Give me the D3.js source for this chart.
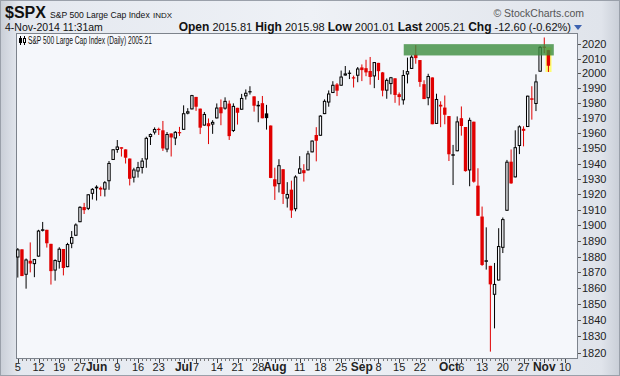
<!DOCTYPE html>
<html>
<head>
<meta charset="utf-8">
<script src="https://cdn.jsdelivr.net/npm/d3@7"></script>
<style>
body { margin: 0; background: #dfe3ea; }
svg { display: block; font-family: "Liberation Sans", Arial, sans-serif; }
</style>
</head>
<body>
<div id="chart"></div>
<script>
// $SPX daily, 5-May-2014 .. 4-Nov-2014 (one entry per trading day)
var opens = [1879.45,1884.66,1868.53,1877.39,1875.27,1880.03,1896.75,1897.13,1888.16,1871.19,
  1876.66,1884.88,1873.34,1888.19,1893.32,1902.01,1911.77,1910.60,1920.33,1923.87,
  1923.07,1923.06,1928.52,1942.41,1948.97,1950.34,1949.37,1943.35,1930.80,1934.84,
  1937.15,1942.73,1957.50,1960.45,1962.92,1961.97,1949.27,1959.89,1956.56,1960.79,
  1962.29,1973.06,1975.88,1984.22,1976.39,1965.10,1966.67,1965.76,1969.86,1977.36,
  1976.35,1979.75,1961.54,1976.93,1975.65,1984.60,1988.07,1984.60,1978.25,1980.03,
  1973.21,1965.14,1929.80,1926.62,1936.34,1917.29,1923.03,1910.35,1933.43,1935.73,
  1935.60,1947.41,1958.87,1958.36,1972.73,1980.46,1986.82,1992.60,1991.74,1998.59,
  2000.54,1997.42,1998.45,2004.07,2003.57,2001.67,1998.00,2007.17,2000.73,1988.41,
  1992.85,1996.74,1986.04,1981.93,1999.30,2003.07,2012.74,2009.08,1992.78,1983.34,
  1997.32,1966.22,1978.96,1977.09,1971.44,1945.83,1948.12,1970.01,1964.16,1935.55,
  1967.68,1925.63,1905.65,1877.11,1874.18,1855.95,1864.91,1885.62,1909.38,1941.29,
  1931.02,1951.59,1962.97,1964.14,1983.29,1979.49,2001.20,2018.21,2015.81];
var highs = [1885.51,1884.66,1878.83,1889.07,1878.57,1897.13,1902.17,1897.13,1888.16,1878.28,
  1886.00,1884.88,1888.80,1896.33,1901.26,1912.28,1914.46,1920.03,1924.03,1925.88,
  1925.07,1928.63,1941.74,1949.44,1955.55,1950.86,1949.37,1943.35,1937.30,1941.15,
  1943.69,1957.74,1959.87,1963.91,1963.74,1968.17,1960.83,1959.89,1961.47,1964.24,
  1978.58,1976.67,1985.59,1984.22,1976.39,1974.15,1969.84,1968.67,1979.85,1982.52,
  1983.94,1981.80,1979.91,1976.93,1986.24,1989.23,1991.39,1984.60,1981.52,1984.85,
  1978.90,1965.14,1937.35,1942.92,1936.34,1927.91,1928.89,1932.38,1944.90,1939.65,
  1948.41,1955.23,1964.04,1971.99,1982.57,1988.57,1994.76,1993.54,2001.95,2005.04,
  2002.14,1998.55,2004.36,2006.12,2009.28,2011.17,2007.71,2007.17,2001.01,1996.66,
  1997.65,1996.74,1987.18,2002.28,2010.74,2012.34,2019.26,2009.08,1995.41,1999.79,
  1997.32,1986.37,1981.28,1985.17,1971.44,1952.32,1971.19,1977.84,1964.16,1970.36,
  1967.68,1936.98,1912.09,1898.71,1874.18,1876.01,1898.16,1905.03,1942.45,1949.31,
  1961.95,1965.27,1964.64,1985.05,1991.40,1999.40,2018.68,2024.46,2015.98];
var lows = [1866.77,1867.72,1859.79,1870.05,1867.02,1880.03,1896.06,1885.77,1862.36,1864.82,
  1872.42,1868.14,1873.34,1885.39,1893.32,1902.01,1907.30,1909.82,1916.64,1915.98,
  1918.79,1918.60,1922.93,1942.41,1947.16,1944.64,1940.08,1925.78,1927.69,1930.91,
  1933.55,1937.29,1952.26,1959.17,1958.89,1948.34,1947.49,1944.69,1952.18,1958.22,
  1962.29,1972.58,1975.88,1974.88,1959.46,1965.10,1952.86,1959.63,1969.86,1965.34,
  1975.67,1955.59,1960.82,1965.77,1975.65,1982.44,1985.79,1974.37,1967.31,1969.95,
  1962.42,1930.52,1916.37,1921.20,1913.77,1911.45,1904.78,1909.01,1933.43,1928.29,
  1935.60,1947.41,1941.50,1958.36,1972.73,1977.68,1986.82,1984.76,1991.74,1998.59,
  1996.20,1990.52,1994.10,1994.85,1998.14,1992.44,1990.10,1995.60,1984.61,1982.99,
  1985.93,1980.26,1978.48,1979.06,1993.29,2003.07,2006.59,1991.01,1982.77,1978.63,
  1965.99,1966.22,1964.04,1965.97,1941.72,1926.03,1948.12,1958.43,1934.80,1925.25,
  1927.56,1906.05,1874.14,1871.79,1820.66,1835.02,1864.91,1882.30,1909.38,1926.83,
  1931.02,1946.27,1951.37,1964.14,1969.04,1974.75,2001.20,2013.68,2001.01];
var closes = [1884.66,1867.72,1878.21,1875.63,1878.48,1896.65,1897.45,1888.53,1870.85,1877.86,
  1885.08,1872.83,1888.03,1892.49,1900.53,1911.91,1909.78,1920.03,1923.57,1924.97,
  1924.24,1927.88,1940.46,1949.44,1951.27,1950.79,1943.89,1930.11,1936.16,1937.78,
  1941.99,1956.98,1959.48,1962.87,1962.61,1949.98,1959.53,1957.22,1960.96,1960.23,
  1973.32,1974.62,1985.44,1977.65,1963.71,1972.83,1964.68,1967.57,1977.10,1973.28,
  1981.57,1958.12,1978.22,1973.63,1983.53,1987.01,1987.98,1978.34,1978.91,1969.95,
  1970.07,1930.67,1925.15,1938.99,1920.21,1920.24,1909.57,1931.59,1936.92,1933.75,
  1946.72,1955.18,1955.06,1971.74,1981.60,1986.51,1992.37,1988.40,1997.92,2000.02,
  2000.12,1996.74,2003.37,2002.28,2000.72,1997.65,2007.71,2001.54,1988.44,1995.69,
  1997.45,1985.54,1984.13,1998.98,2001.57,2011.36,2010.40,1994.29,1982.77,1998.30,
  1965.99,1982.85,1977.80,1972.29,1946.16,1946.17,1967.90,1964.82,1935.10,1968.89,
  1928.21,1906.13,1874.74,1877.70,1862.49,1862.76,1886.76,1904.01,1941.28,1927.11,
  1950.82,1964.58,1961.63,1985.05,1982.30,1994.65,2018.05,2017.81,2005.21];
var prevClose = 1881.14; // close of 2-May-2014

// x axis labels, placed on the trading-day index (Nov 10 is past the last bar)
var tickIdx    = [0,5,10,15,19,24,29,34,40,43,48,53,58,62,68,73,78,83,87,92,97,104,107,112,117,122,127,132];
var tickLabels = ["5","12","19","27","Jun","9","16","23","Jul","7","14","21","28","Aug","11","18","25",
                  "Sep","8","15","22","Oct","6","13","20","27","Nov","10"];
var monthLabels = ["Jun","Jul","Aug","Sep","Oct","Nov"];
var yTicks = d3.range(1820, 2021, 10);

// resistance zone and last-bar highlight (index range, price range)
var zoneIdx = [93.1, 129.3], zonePx = [2012.2, 2019.9];
var hiIdx = [127.3, 128.75], hiPx = [2001.0, 2017.8];

var w = 620, h = 376;
var pL = 16, pT = 33, pR = 577, pB = 358;

var svg = d3.select("#chart").append("svg")
    .attr("width", w)
    .attr("height", h);

var defs = svg.append("defs");
var bg = defs.append("linearGradient").attr("id", "bg")
    .attr("x1", 0).attr("x2", 1).attr("y1", 0).attr("y2", 0);
bg.append("stop").attr("offset", "0%").attr("stop-color", "#c9ced7");
bg.append("stop").attr("offset", "3%").attr("stop-color", "#e4e8ef");
bg.append("stop").attr("offset", "50%").attr("stop-color", "#eef1f6");
bg.append("stop").attr("offset", "97%").attr("stop-color", "#e0e4eb");
bg.append("stop").attr("offset", "100%").attr("stop-color", "#c9ced7");
defs.append("clipPath").attr("id", "clip")
    .append("rect").attr("x", pL).attr("y", pT)
    .attr("width", pR - pL).attr("height", pB - pT);

svg.append("rect").attr("width", w).attr("height", h).attr("fill", "url(#bg)");
svg.append("rect").attr("x", 0.5).attr("y", 0.5).attr("width", w - 1).attr("height", h - 1)
    .attr("fill", "none").attr("stroke", "#9aa0aa");

// plot frame
svg.append("rect")
    .attr("x", pL + 0.5).attr("y", pT + 0.5)
    .attr("width", pR - pL).attr("height", pB - pT)
    .attr("fill", "#f5f7fb")
    .attr("stroke", "#7d838c");

var x = d3.scaleLinear().domain([0, 132]).range([17.8, 565]);
var y = d3.scaleLog().domain([1820, 2020]).range([352.7, 44]);

var data = closes.map(function(c, i) {
    return {i: i, o: opens[i], h: highs[i], l: lows[i], c: c,
            up: c >= (i ? closes[i - 1] : prevClose)};
});

var plot = svg.append("g").attr("clip-path", "url(#clip)");

plot.append("rect")
    .attr("x", x(hiIdx[0])).attr("width", x(hiIdx[1]) - x(hiIdx[0]))
    .attr("y", y(hiPx[1])).attr("height", y(hiPx[0]) - y(hiPx[1]))
    .attr("fill", "#ffff55").attr("opacity", 0.85);

var bw = 3.4;
var candles = plot.selectAll("g.candle")
    .data(data)
    .enter().append("g")
    .attr("class", "candle");

candles.append("line")
    .attr("x1", function(d) { return x(d.i); })
    .attr("x2", function(d) { return x(d.i); })
    .attr("y1", function(d) { return y(d.h); })
    .attr("y2", function(d) { return y(d.l); })
    .attr("stroke", function(d) { return d.up ? "#000" : "#e00000"; })
    .attr("stroke-width", 1);

candles.append("rect")
    .attr("x", function(d) { return d.c > d.o ? x(d.i) - bw / 2 + 0.5 : x(d.i) - bw / 2; })
    .attr("width", function(d) { return d.c > d.o ? bw - 1 : bw; })
    .attr("y", function(d) {
        var t = y(Math.max(d.o, d.c));
        return d.c > d.o ? t + 0.5 : t;
    })
    .attr("height", function(d) {
        var hh = Math.abs(y(d.o) - y(d.c));
        return d.c > d.o ? Math.max(hh - 1, 0.5) : Math.max(hh, 1.2);
    })
    .attr("fill", function(d) {
        if (d.c > d.o) return "#f5f7fb";
        return d.up ? "#000" : "#e00000";
    })
    .attr("stroke", function(d) {
        if (d.c > d.o) return d.up ? "#000" : "#e00000";
        return "none";
    })
    .attr("stroke-width", 1);

// resistance zone on top of the bars
plot.append("rect")
    .attr("x", x(zoneIdx[0])).attr("width", x(zoneIdx[1]) - x(zoneIdx[0]))
    .attr("y", y(zonePx[1])).attr("height", y(zonePx[0]) - y(zonePx[1]))
    .attr("fill", "#3c8c3e").attr("opacity", 0.8);

// right price axis
var yaxis = svg.append("g").attr("class", "y axis");
yaxis.selectAll("line")
    .data(yTicks)
    .enter().append("line")
    .attr("x1", pR + 1).attr("x2", pR + 4)
    .attr("y1", function(d) { return Math.round(y(d)) + 0.5; })
    .attr("y2", function(d) { return Math.round(y(d)) + 0.5; })
    .attr("stroke", "#555");
yaxis.selectAll("text")
    .data(yTicks)
    .enter().append("text")
    .attr("x", pR + 5)
    .attr("y", function(d) { return y(d) + 4; })
    .attr("font-size", 11)
    .attr("fill", "#222")
    .text(function(d) { return d; });

// bottom date axis
var xaxis = svg.append("g").attr("class", "x axis");
xaxis.selectAll("line.minor")
    .data(d3.range(0, 133))
    .enter().append("line")
    .attr("class", "minor")
    .attr("x1", function(d) { return Math.round(x(d)) + 0.5; })
    .attr("x2", function(d) { return Math.round(x(d)) + 0.5; })
    .attr("y1", pB + 1).attr("y2", pB + 3)
    .attr("stroke", "#777");
xaxis.selectAll("line.major")
    .data(tickIdx)
    .enter().append("line")
    .attr("class", "major")
    .attr("x1", function(d) { return Math.round(x(d)) + 0.5; })
    .attr("x2", function(d) { return Math.round(x(d)) + 0.5; })
    .attr("y1", pB + 1).attr("y2", pB + 5)
    .attr("stroke", "#444");
xaxis.selectAll("text")
    .data(tickIdx)
    .enter().append("text")
    .attr("x", function(d) { return x(d); })
    .attr("y", 371)
    .attr("text-anchor", "middle")
    .attr("font-size", function(d, i) { return monthLabels.indexOf(tickLabels[i]) >= 0 ? 12 : 11; })
    .attr("font-weight", function(d, i) { return monthLabels.indexOf(tickLabels[i]) >= 0 ? "bold" : "normal"; })
    .attr("fill", "#222")
    .text(function(d, i) { return tickLabels[i]; });

// header
svg.append("text").attr("x", 5).attr("y", 18)
    .attr("font-size", 16).attr("font-weight", "bold").attr("fill", "#111").text("$SPX");
svg.append("text").attr("x", 50).attr("y", 18)
    .attr("font-size", 8.6).attr("fill", "#111")
    .text("S&P 500 Large Cap Index");
svg.append("text").attr("x", 153).attr("y", 18)
    .attr("font-size", 8).attr("fill", "#111").text("INDX");
svg.append("text").attr("x", 584).attr("y", 17).attr("text-anchor", "end")
    .attr("font-size", 10.5).attr("fill", "#555").text("\u00a9 StockCharts.com");
svg.append("text").attr("x", 5).attr("y", 31)
    .attr("font-size", 10.5).attr("fill", "#111").text("4-Nov-2014 11:31am");

var quote = svg.append("text").attr("x", 571).attr("y", 31)
    .attr("text-anchor", "end").attr("font-size", 11).attr("fill", "#111");
[["Open", " 2015.81  "], ["High", " 2015.98  "], ["Low", " 2001.01  "],
 ["Last", " 2005.21  "], ["Chg", " -12.60 (-0.62%)"]].forEach(function(p) {
    quote.append("tspan").attr("font-weight", "bold").attr("font-size", 12).text(p[0]);
    quote.append("tspan").text(p[1]);
});
svg.append("path")
    .attr("d", "M574,25 L582,25 L578,30 Z")
    .attr("fill", "#3d62b0");

// legend inside plot
var lg = svg.append("g");
lg.append("line").attr("x1", 20.5).attr("x2", 20.5).attr("y1", 36).attr("y2", 45).attr("stroke", "#000");
lg.append("rect").attr("x", 19).attr("y", 38).attr("width", 3).attr("height", 5).attr("fill", "#000");
lg.append("line").attr("x1", 24.5).attr("x2", 24.5).attr("y1", 36).attr("y2", 45).attr("stroke", "#000");
lg.append("rect").attr("x", 23.5).attr("y", 38.5).attr("width", 2).attr("height", 4)
    .attr("fill", "#fff").attr("stroke", "#000");
lg.append("text").attr("x", 28).attr("y", 44)
    .attr("font-size", 10).attr("fill", "#111")
    .attr("textLength", 124).attr("lengthAdjust", "spacingAndGlyphs")
    .text("S&P 500 Large Cap Index (Daily) 2005.21");
</script>
</body>
</html>
